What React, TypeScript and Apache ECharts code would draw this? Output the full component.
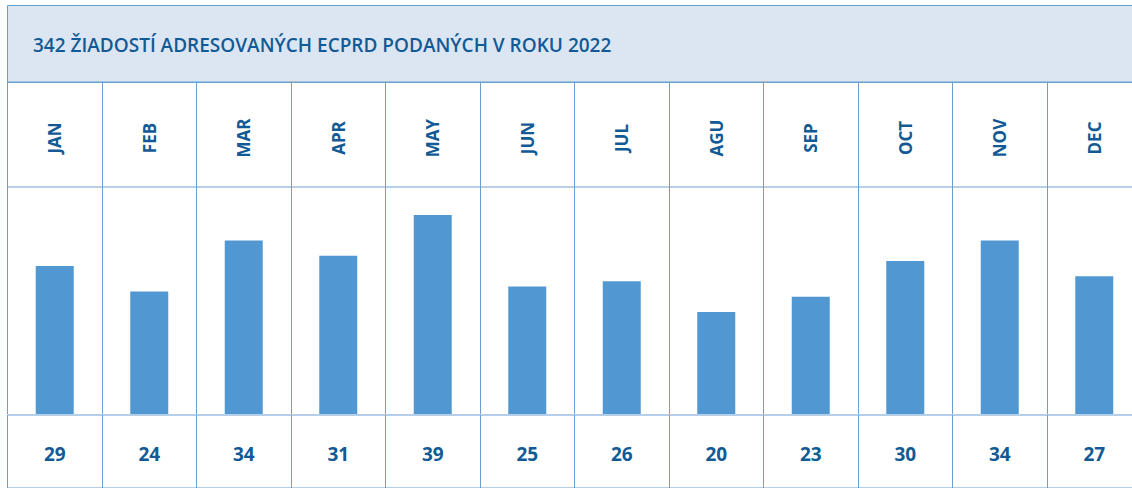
import React, { useEffect, useRef } from "react";
import * as echarts from "echarts";

const titleText = "342 ŽIADOSTÍ ADRESOVANÝCH ECPRD PODANÝCH V ROKU 2022";
const months = ["JAN", "FEB", "MAR", "APR", "MAY", "JUN", "JUL", "AGU", "SEP", "OCT", "NOV", "DEC"];
const requests = [29, 24, 34, 31, 39, 25, 26, 20, 23, 30, 34, 27];

const LINE = "#6b9fd0";
const TEXT = "#125a95";
const BAR = "#5198d2";
const HEAD = "#dce6f2";
const FONT = "'Open Sans', 'Noto Sans', sans-serif";

export default function App() {
  const ref = useRef<HTMLDivElement>(null);
  useEffect(() => {
    document.body.style.margin = "0";
    if (!ref.current) return;
    const chart = echarts.init(ref.current, null, { renderer: "svg" });
    const left = 7.5;
    const right = 3.5;
    const splitLine = { show: true, lineStyle: { color: LINE, width: 1 } };
    chart.setOption({
      animation: false,
      backgroundColor: "#ffffff",
      title: {
        text: titleText,
        left: 33,
        top: 34,
        padding: 0,
        textStyle: { color: TEXT, fontFamily: FONT, fontWeight: 600, fontSize: 19, lineHeight: 22 },
      },
      graphic: [
        {
          type: "rect",
          shape: { x: 7.5, y: 5.5, width: 1150, height: 77 },
          style: { fill: HEAD, stroke: LINE, lineWidth: 1 },
          z: -1,
        },
      ],
      grid: [
        { left, right, top: 82, height: 105, show: true, borderColor: LINE, borderWidth: 1 },
        { left, right, top: 187, height: 227, show: false },
        { left, right, top: 415, height: 100, show: true, borderColor: LINE, borderWidth: 1 },
      ],
      xAxis: [
        {
          type: "category",
          gridIndex: 0,
          data: months,
          position: "bottom",
          boundaryGap: true,
          axisLine: { show: false },
          axisTick: { show: false },
          splitLine,
          axisLabel: {
            inside: true,
            margin: 49,
            rotate: 90,
            align: "center",
            verticalAlign: "middle",
            color: TEXT,
            fontFamily: FONT,
            fontWeight: 700,
            fontSize: 17,
          },
        },
        {
          type: "category",
          gridIndex: 1,
          data: months,
          boundaryGap: true,
          axisLine: { show: false },
          axisTick: { show: false },
          axisLabel: { show: false },
          splitLine,
        },
        {
          type: "category",
          gridIndex: 2,
          data: requests.map(String),
          position: "top",
          boundaryGap: true,
          axisLine: { show: false },
          axisTick: { show: false },
          splitLine,
          axisLabel: {
            inside: true,
            margin: 39,
            align: "center",
            verticalAlign: "middle",
            color: TEXT,
            fontFamily: FONT,
            fontWeight: 700,
            fontSize: 19,
          },
        },
      ],
      yAxis: [
        { type: "value", gridIndex: 0, show: false, splitLine: { show: false } },
        { type: "value", gridIndex: 1, show: false, min: 0, max: 44.5, splitLine: { show: false } },
        { type: "value", gridIndex: 2, show: false, splitLine: { show: false } },
      ],
      series: [
        {
          type: "bar",
          xAxisIndex: 1,
          yAxisIndex: 1,
          data: requests,
          barWidth: 38,
          itemStyle: { color: BAR },
          silent: true,
        },
      ],
    });
    return () => chart.dispose();
  }, []);
  return (
    <div style={{ width: 1132, height: 488, overflow: "hidden", position: "relative" }}>
      <div ref={ref} style={{ width: 1145, height: 488 }} />
    </div>
  );
}
